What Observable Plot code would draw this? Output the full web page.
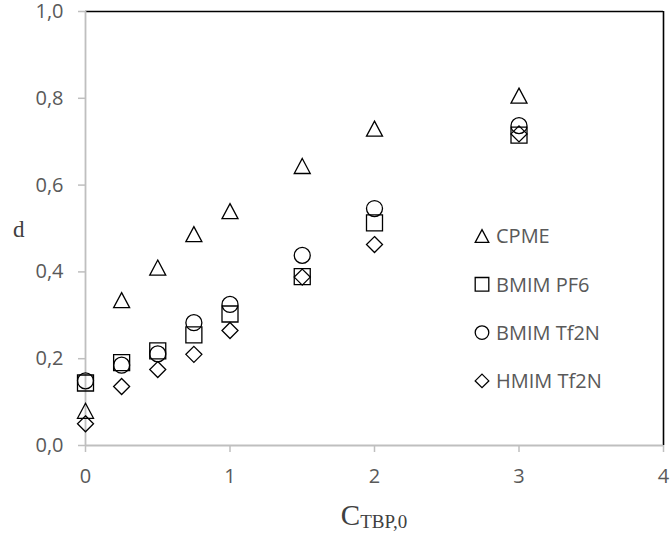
<!DOCTYPE html>
<html>
<head>
<meta charset="utf-8">
<script src="https://cdn.jsdelivr.net/npm/d3@7"></script>
<script src="https://cdn.jsdelivr.net/npm/@observablehq/plot@0.6"></script>
<style>
  html, body { margin: 0; padding: 0; background: white; }
  #wrap { position: relative; width: 670px; height: 542px; }
  #overlay { position: absolute; left: 0; top: 0; pointer-events: none; }
</style>
</head>
<body>
<div id="wrap"></div>
<script>
// ---- data ----
const concentrations = [0, 0.25, 0.5, 0.75, 1, 1.5, 2, 3];
const cpme      = [0.08, 0.335, 0.41, 0.487, 0.54, 0.644, 0.73, 0.806];
const bmimPF6   = [0.144, 0.191, 0.218, 0.255, 0.303, 0.389, 0.513, 0.715];
const bmimTf2N  = [0.149, 0.185, 0.211, 0.283, 0.325, 0.438, 0.546, 0.737];
const hmimTf2N  = [0.05, 0.136, 0.175, 0.21, 0.265, 0.388, 0.463, 0.718];
const seriesNames = ["CPME", "BMIM PF6", "BMIM Tf2N", "HMIM Tf2N"];
const xTicks = [0, 1, 2, 3, 4];
const yTicks = [0, 0.2, 0.4, 0.6, 0.8, 1.0];
const xLabel = "C";
const xLabelSub = "TBP,0";
const yLabel = "d";

// ---- symbols ----
const half = size => Math.sqrt(size / Math.PI);
const symTriangle = { draw(ctx, size) { const s = half(size), h = s * 0.94;
  ctx.moveTo(0, -h); ctx.lineTo(s, h); ctx.lineTo(-s, h); ctx.closePath(); } };
const symSquare = { draw(ctx, size) { const s = half(size);
  ctx.moveTo(-s, -s); ctx.lineTo(s, -s); ctx.lineTo(s, s); ctx.lineTo(-s, s); ctx.closePath(); } };
const symCircle = { draw(ctx, size) { const s = half(size);
  ctx.moveTo(s, 0); ctx.arc(0, 0, s, 0, 2 * Math.PI); } };
const symDiamond = { draw(ctx, size) { const s = half(size);
  ctx.moveTo(0, -s); ctx.lineTo(s, 0); ctx.lineTo(0, s); ctx.lineTo(-s, 0); ctx.closePath(); } };
const symbols = [symTriangle, symSquare, symCircle, symDiamond];
const values = [cpme, bmimPF6, bmimTf2N, hmimTf2N];

const rows = [];
values.forEach((vals, si) => vals.forEach((v, i) => rows.push({x: concentrations[i], y: v, s: si})));

const fmt = d => d3.format(".1f")(d).replace(".", ",");

const chart = Plot.plot({
  width: 670, height: 542,
  marginLeft: 85, marginRight: 7, marginTop: 11, marginBottom: 97,
  style: { fontFamily: "'Open Sans', sans-serif", fontSize: "20px", color: "#595959", background: "white" },
  x: { domain: [0, 4] },
  y: { domain: [0, 1] },
  marks: [
    Plot.ruleY([1], { stroke: "black", strokeWidth: 1.6 }),
    Plot.ruleX([4], { stroke: "black", strokeWidth: 1.6 }),
    Plot.axisX({ ticks: xTicks, tickSize: 7, tickPadding: 16, stroke: "#bfbfbf", strokeWidth: 1.5, tickFormat: d => String(d), label: null }),
    Plot.axisY({ ticks: yTicks, tickSize: 7, tickPadding: 15, stroke: "#bfbfbf", strokeWidth: 1.5, tickFormat: fmt, label: null }),
    Plot.ruleX([0], { stroke: "#bfbfbf", strokeWidth: 1.8 }),
    Plot.ruleY([0], { stroke: "#bfbfbf", strokeWidth: 1.8 }),
    ...symbols.map((sym, si) => Plot.dot(rows.filter(r => r.s === si), {
      x: "x", y: "y", symbol: () => sym, r: 8, stroke: "black", strokeWidth: 1.3, fill: "none"
    }))
  ]
});
document.getElementById("wrap").appendChild(chart);

// ---- overlay: legend and axis titles ----
const ov = d3.select("#wrap").append("svg").attr("id", "overlay")
  .attr("width", 670).attr("height", 542);

const leg = ov.append("g").attr("transform", "translate(482,236)");
seriesNames.forEach((name, i) => {
  const g = leg.append("g").attr("transform", `translate(0,${i * 48.3})`);
  g.append("path").attr("d", d3.symbol(symbols[i], Math.PI * 6.8 * 6.8)())
    .attr("fill", "none").attr("stroke", "black").attr("stroke-width", 1.3);
  g.append("text").attr("x", 14).attr("y", 0).attr("dy", "0.36em")
    .attr("font-family", "'Open Sans', sans-serif").attr("font-size", 20)
    .attr("fill", "#595959").text(name);
});

ov.append("text").attr("x", 13).attr("y", 237)
  .attr("font-family", "'Liberation Serif', serif").attr("font-size", 23)
  .attr("fill", "#404040").text(yLabel);

const xt = ov.append("text").attr("x", 374).attr("y", 525).attr("text-anchor", "middle")
  .attr("font-family", "'Liberation Serif', serif").attr("fill", "#404040");
xt.append("tspan").attr("font-size", 29).text(xLabel);
xt.append("tspan").attr("font-size", 19).attr("dy", 3).text(xLabelSub);
</script>
</body>
</html>
